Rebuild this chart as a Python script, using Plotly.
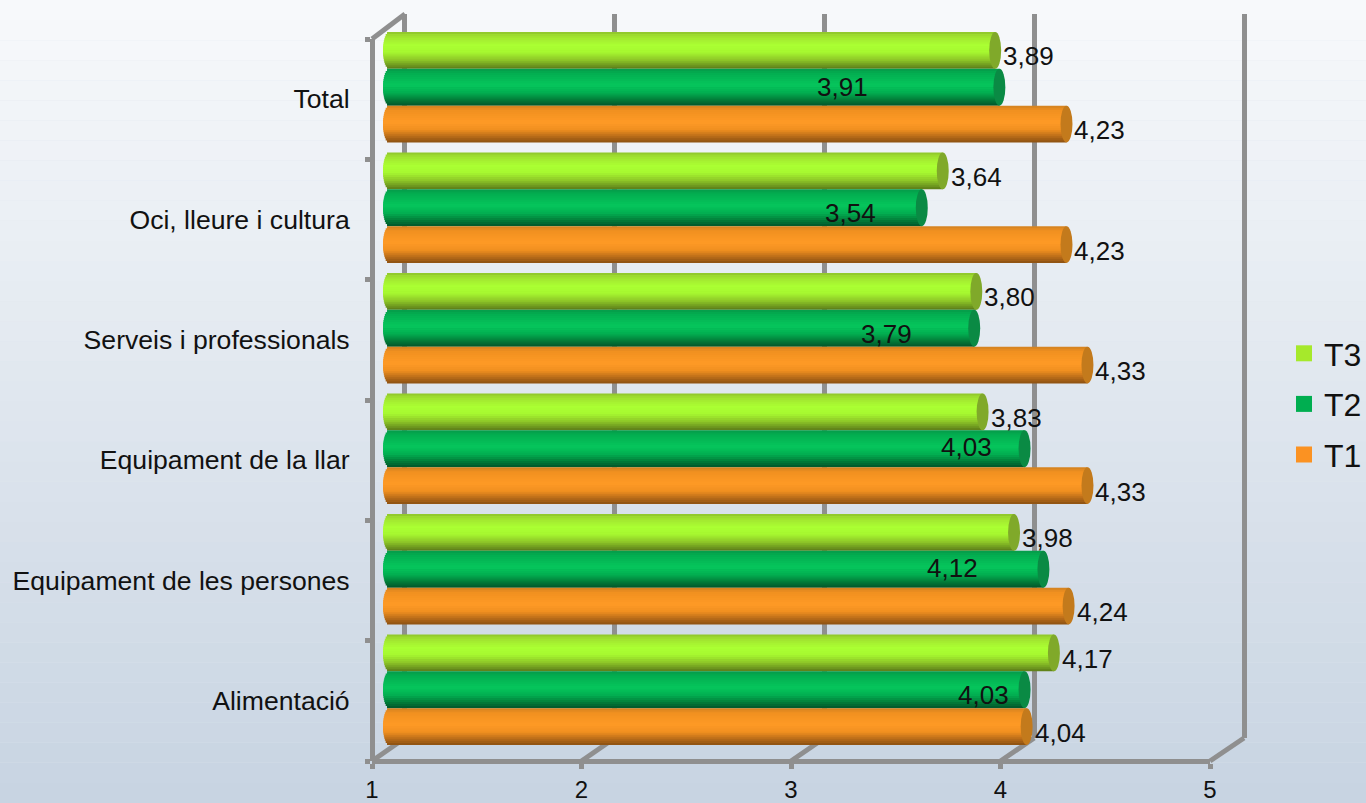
import math
import plotly.graph_objects as go

categories = ["Alimentació", "Equipament de les persones", "Equipament de la llar",
              "Serveis i professionals", "Oci, lleure i cultura", "Total"]
t3_values = [4.17, 3.98, 3.83, 3.80, 3.64, 3.89]
t2_values = [4.03, 4.12, 4.03, 3.79, 3.54, 3.91]
t1_values = [4.04, 4.24, 4.33, 4.33, 4.23, 4.23]
x_ticks = [1, 2, 3, 4, 5]

# hand-placed T2 labels, in pixels relative to the bar end
t2_label_dx = [-41, -91, -58, -88, -71, -157]
t2_label_dy = [5, -1, -2, 6, 5, 0]

W, H = 1366, 803
FONT = "Liberation Sans, Arial, sans-serif"
GRID = "#8f8f8f"


def px(a, b):
    return [a / W, b / W]


def py(top, bottom):
    return [1 - bottom / H, 1 - top / H]


def hex_rgb(c):
    return tuple(int(c[i:i + 2], 16) for i in (1, 3, 5))


def shade(stops, t):
    for (t0, c0), (t1, c1) in zip(stops, stops[1:]):
        if t <= t1:
            f = (t - t0) / (t1 - t0)
            a, b = hex_rgb(c0), hex_rgb(c1)
            return "rgb(%d,%d,%d)" % tuple(round(a[i] + (b[i] - a[i]) * f) for i in range(3))
    return stops[-1][1]


series = [
    dict(name="T3", values=t3_values, pos=1, swatch="#a6e92b", cap="#80a92a",
         stops=[(0, "#8cc22b"), (.1, "#a0e030"), (.35, "#abff33"), (.55, "#a6f830"),
                (.75, "#8fc828"), (.9, "#6f9a20"), (1, "#5c7a18")]),
    dict(name="T2", values=t2_values, pos=0, swatch="#00ae50", cap="#0a8a44",
         stops=[(0, "#059a4a"), (.12, "#03ae50"), (.45, "#06c65c"), (.65, "#02ae50"),
                (.85, "#027a38"), (1, "#02552a")]),
    dict(name="T1", values=t1_values, pos=-1, swatch="#fb9222", cap="#c37a1c",
         stops=[(0, "#d08020"), (.12, "#f09020"), (.45, "#ff9a26"), (.65, "#f08f20"),
                (.85, "#b56a18"), (1, "#8a5012")]),
]

fig = go.Figure()

# invisible traces so the back wall and front axes exist
fig.add_trace(go.Scatter(x=x_ticks, y=[0] * 5, xaxis="x", yaxis="y", mode="none",
                         showlegend=False, hoverinfo="skip"))
fig.add_trace(go.Bar(x=[0] * 6, y=categories, orientation="h", xaxis="x2", yaxis="y2",
                     showlegend=False, hoverinfo="skip", marker_opacity=0))

# cylinders: strips painted from both edges towards the centre line
BAR = 0.3054
STRIPS = 18
CAP = 6 / 210
dh = BAR / STRIPS
ypos = list(range(len(categories)))
shapes = []
for k in range(40):
    a, b = hex_rgb("#f7f9fb"), hex_rgb("#c8d4e2")
    c = "rgb(%d,%d,%d)" % tuple(round(a[i] + (b[i] - a[i]) * k / 39) for i in range(3))
    shapes.append(dict(type="rect", xref="paper", yref="paper", x0=0, x1=1,
                       y0=1 - (k + 1) / 40, y1=1 - k / 40, fillcolor=c,
                       line_width=0, layer="below"))

for s in series:
    mid = s["pos"] * BAR
    order = []
    for n in range(STRIPS // 2):
        order += [n, STRIPS - 1 - n]
    for i in order:
        t = (i + .5) / STRIPS
        base = 1 - CAP * math.sqrt(max(0, 1 - (2 * t - 1) ** 2))
        if i < STRIPS / 2:  # upper half: from the strip's top edge down to the centre
            low, span = mid, BAR / 2 - i * dh
        else:               # lower half: from the strip's bottom edge up to the centre
            low, span = mid + BAR / 2 - (i + 1) * dh, (i + 1) * dh - BAR / 2
        fig.add_trace(go.Bar(
            x=[v - base for v in s["values"]], y=ypos, base=base, orientation="h",
            offset=low, width=span,
            marker=dict(color=shade(s["stops"], t), line_width=0),
            xaxis="x3", yaxis="y3", showlegend=False, hoverinfo="skip"))
    for j, v in enumerate(s["values"]):
        shapes.append(dict(type="circle", xref="x3", yref="y3", x0=v - CAP, x1=v + CAP,
                           y0=j + mid - BAR / 2, y1=j + mid + BAR / 2,
                           fillcolor=s["cap"], line_width=0, layer="above"))

# legend entries
for s in series:
    fig.add_trace(go.Scatter(x=[None], y=[None], name=s["name"], mode="markers",
                             legendgroup=s["name"], xaxis="x2", yaxis="y2",
                             marker=dict(symbol="square", size=17, color=s["swatch"])))

# floor and roof diagonals joining the front axes to the back wall
X0, X1, B0, B1 = 372, 1210, 405, 1244
for tick in x_ticks:
    f = (tick - 1) / 4
    shapes.append(dict(type="line", xref="paper", yref="paper",
                       x0=(X0 + (X1 - X0) * f) / W, y0=1 - 761 / H,
                       x1=(B0 + (B1 - B0) * f) / W, y1=1 - 738 / H,
                       line=dict(color=GRID, width=5), layer="below"))
shapes.append(dict(type="line", xref="paper", yref="paper", x0=X0 / W, y0=1 - 39 / H,
                   x1=B0 / W, y1=1 - 14 / H, line=dict(color=GRID, width=5), layer="below"))

# value labels
annotations = []
for s in series:
    for j, v in enumerate(s["values"]):
        text = f"{v:.2f}".replace(".", ",")
        if s["name"] == "T2":
            dx, dy, anchor = t2_label_dx[j], -t2_label_dy[j], "center"
        else:
            dx, dy, anchor = 6, s["pos"] * 36.8 - 6, "left"
        annotations.append(dict(x=v, y=j, xref="x3", yref="y3", text=text, showarrow=False,
                                xanchor=anchor, yanchor="middle", xshift=dx, yshift=dy,
                                font=dict(size=26, color="#111111")))

hidden = dict(visible=False, fixedrange=True)
WALL_PAD = 0.02                     # keeps the end grid lines of the wall visible
PX_PER_UNIT = 209.75
fig.update_layout(
    width=W, height=H, margin=dict(l=0, r=0, t=0, b=0, autoexpand=False),
    paper_bgcolor="#dfe5ee", plot_bgcolor="rgba(0,0,0,0)", barmode="overlay",
    font=dict(family=FONT, size=25.5, color="#111111"),
    shapes=shapes, annotations=annotations,
    # back wall
    xaxis=dict(domain=px(405 - WALL_PAD * PX_PER_UNIT, 1244 + WALL_PAD * PX_PER_UNIT),
               range=[1 - WALL_PAD, 5 + WALL_PAD], tickvals=x_ticks, showgrid=True,
               gridcolor=GRID, gridwidth=5, showticklabels=False, zeroline=False,
               ticks="", anchor="y"),
    yaxis=dict(domain=py(14, 738), range=[0, 1], showgrid=False, showticklabels=False,
               zeroline=False, ticks="", anchor="x"),
    # front axes
    xaxis2=dict(domain=px(372, 1210), range=[1, 5], tickvals=x_ticks,
                anchor="free", position=1 - 761 / H, side="bottom", showgrid=False,
                zeroline=False, showline=True, linecolor=GRID, linewidth=5,
                ticks="outside", ticklen=5, tickwidth=5, tickcolor=GRID,
                tickfont=dict(size=24)),
    yaxis2=dict(domain=py(39, 761), type="category", categoryorder="array",
                categoryarray=categories, anchor="free", position=372 / W, side="left",
                range=[-0.5, 5.5], showgrid=False, zeroline=False, showline=True,
                linecolor=GRID, linewidth=5, ticks="outside", ticklen=5, tickwidth=5,
                tickcolor=GRID, tickson="boundaries", ticklabelstandoff=15,
                tickfont=dict(size=26.6)),
    # cylinders (the axis starts a little before 1 so the rounded bar ends show)
    xaxis3=dict(domain=px(389 - 7, 1228), range=[1 - 7 / 209.75, 5], anchor="y3", **hidden),
    yaxis3=dict(domain=py(27, 750), range=[-0.5, 5.5], anchor="x3", **hidden),
    legend=dict(x=1284 / W, xanchor="left", y=1 - 404 / H, yanchor="middle",
                traceorder="grouped", tracegroupgap=6, font=dict(size=32),
                bgcolor="rgba(0,0,0,0)", borderwidth=0),
)

fig.write_html("out.html", config=dict(displayModeBar=False),
               post_script="document.body.style.margin='0';")
